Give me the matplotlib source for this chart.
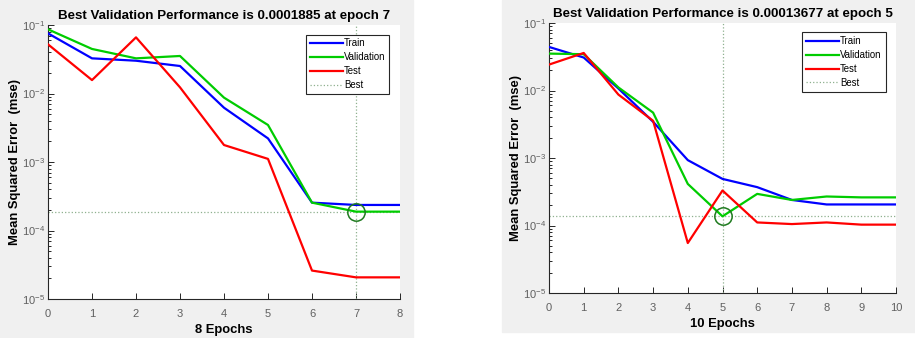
import matplotlib
matplotlib.use("Agg")
import matplotlib.pyplot as plt
from matplotlib.patches import Rectangle
from matplotlib.ticker import LogLocator, LogFormatterSciNotation, NullFormatter

plt.rcParams['font.family'] = ['Liberation Sans', 'DejaVu Sans']
plt.rcParams['mathtext.fontset'] = 'custom'
plt.rcParams['mathtext.rm'] = 'Liberation Sans'
plt.rcParams['mathtext.it'] = 'Liberation Sans'

# ---- Left panel data ----
epochs_a = [0, 1, 2, 3, 4, 5, 6, 7, 8]
train_a = [0.0755, 0.0326, 0.0301, 0.0252, 0.0062, 0.00221, 0.000255, 0.000236, 0.000236]
val_a = [0.0865, 0.0447, 0.0326, 0.0353, 0.0087, 0.00347, 0.000255, 0.0001885, 0.0001885]
test_a = [0.0522, 0.0157, 0.066, 0.0123, 0.00177, 0.00111, 2.6e-5, 2.07e-5, 2.07e-5]
best_epoch_a = 7
best_val_a = 0.0001885
title_a = "Best Validation Performance is 0.0001885 at epoch 7"
xlabel_a = "8 Epochs"

# ---- Right panel data ----
epochs_b = [0, 1, 2, 3, 4, 5, 6, 7, 8, 9, 10]
train_b = [0.0442, 0.0308, 0.0107, 0.00344, 0.00093, 0.00049, 0.00037, 0.000239, 0.000205, 0.000205, 0.000205]
val_b = [0.0352, 0.0345, 0.0111, 0.0047, 0.000413, 0.00013677, 0.000294, 0.000239, 0.000269, 0.000261, 0.000261]
test_b = [0.0242, 0.036, 0.0087, 0.00356, 5.5e-5, 0.00033, 0.000111, 0.000105, 0.000111, 0.000103, 0.000103]
best_epoch_b = 5
best_val_b = 0.00013677
title_b = "Best Validation Performance is 0.00013677 at epoch 5"
xlabel_b = "10 Epochs"

W, H = 915, 338
fig = plt.figure(figsize=(W / 100, H / 100), dpi=100)
fig.patch.set_facecolor('white')
bg = '#f0f0f0'
fig.add_artist(Rectangle((0, 0), 413 / W, 1, transform=fig.transFigure, color=bg, zorder=-10))
fig.add_artist(Rectangle((502 / W, 6 / H), 1 - 502 / W, 1 - 6 / H, transform=fig.transFigure, color=bg, zorder=-10))

ax_a = fig.add_axes([48 / W, (H - 299) / H, 352 / W, 274 / H])
ax_b = fig.add_axes([549 / W, (H - 293) / H, 347 / W, 270 / H])

best_color = '#8fb08f'
for ax, ep, tr, va, te, be, bv, ttl, xl in [
    (ax_a, epochs_a, train_a, val_a, test_a, best_epoch_a, best_val_a, title_a, xlabel_a),
    (ax_b, epochs_b, train_b, val_b, test_b, best_epoch_b, best_val_b, title_b, xlabel_b),
]:
    ax.set_facecolor('white')
    ax.set_yscale('log')
    ax.set_xlim(ep[0], ep[-1])
    ax.set_ylim(1e-5, 1e-1)
    ax.plot(ep, tr, color=(0, 0, 1), lw=1.6, label='Train', zorder=3)
    ax.plot(ep, va, color=(0, 0.8, 0), lw=1.6, label='Validation', zorder=3)
    ax.plot(ep, te, color=(1, 0, 0), lw=1.6, label='Test', zorder=3)
    ax.plot([ep[0], ep[-1]], [bv, bv], ls=':', color=best_color, lw=0.9, label='Best', zorder=2)
    ax.plot([be, be], [1e-5, 1e-1], ls=':', color=best_color, lw=0.9, zorder=2)
    ax.plot([be], [bv], marker='o', ms=12.5, mfc='none', mec='#1e7a1e', mew=1.1, zorder=4)
    ax.set_xticks(ep)
    ax.yaxis.set_major_locator(LogLocator(base=10, numticks=10))
    ax.yaxis.set_major_formatter(LogFormatterSciNotation())
    ax.yaxis.set_minor_locator(LogLocator(base=10, subs=range(2, 10), numticks=20))
    ax.yaxis.set_minor_formatter(NullFormatter())
    ax.tick_params(which='both', direction='in', top=False, right=False, colors='#262626',
                   labelcolor='#606060', labelsize=8, width=0.7)
    ax.tick_params(which='major', length=4)
    ax.tick_params(axis='x', which='major', pad=7)
    ax.tick_params(axis='y', which='major', pad=2)
    ax.tick_params(which='minor', length=2.5)
    for s in ['top', 'right']:
        ax.spines[s].set_visible(False)
    for s in ['left', 'bottom']:
        ax.spines[s].set_color('#262626')
        ax.spines[s].set_linewidth(0.8)
    ax.set_title(ttl, fontsize=9.6, fontweight='bold', pad=4)
    ax.set_xlabel(xl, fontsize=9.4, fontweight='bold', labelpad=3.5)
    ax.set_ylabel('Mean Squared Error  (mse)', fontsize=9.4, fontweight='bold', labelpad=1)
    leg = ax.legend(loc='upper right', bbox_to_anchor=(0.97, 0.965), fontsize=6.9,
                    handlelength=3.5, handletextpad=0.1, borderpad=0.4, labelspacing=0.4,
                    fancybox=False, framealpha=1, edgecolor='#262626', borderaxespad=0)
    leg.get_frame().set_linewidth(0.8)

fig.savefig('out.png', dpi=100, facecolor=fig.get_facecolor())
